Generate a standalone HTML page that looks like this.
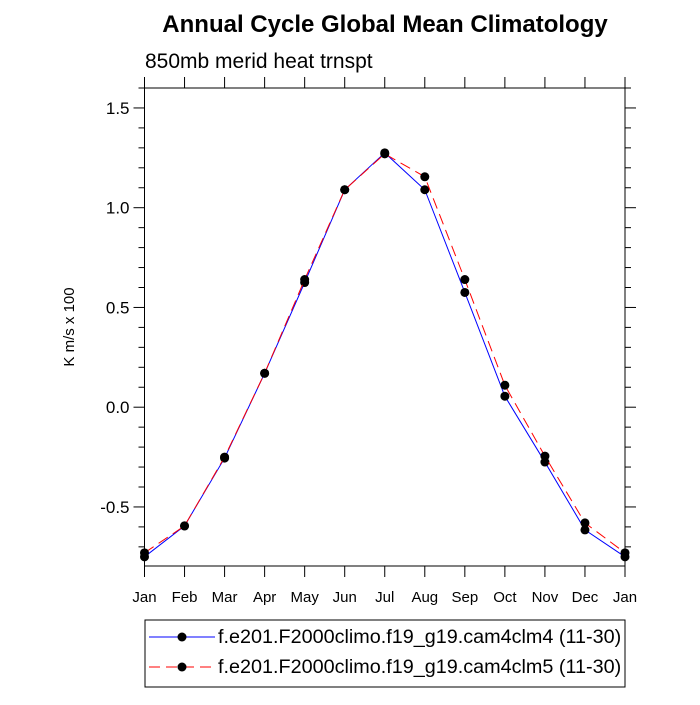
<!DOCTYPE html>
<html><head><meta charset="utf-8"><style>
body{margin:0;background:#fff}
svg text{font-family:"Liberation Sans",sans-serif}
</style></head><body>
<svg width="700" height="700" xmlns="http://www.w3.org/2000/svg">
<text x="385" y="32" text-anchor="middle" font-size="24" font-weight="bold">Annual Cycle Global Mean Climatology</text>
<text x="145" y="68" font-size="21">850mb merid heat trnspt</text>
<text transform="translate(74,327) rotate(-90)" text-anchor="middle" font-size="15">K m/s x 100</text>
<g id="axes"></g>
<g id="series"></g>
<g>
<rect x="145" y="620" width="480" height="67" fill="none" stroke="#000" stroke-width="1"/>
<g>
<line x1="149" y1="637" x2="215" y2="637" stroke="#0000ff" stroke-width="1"/>
<circle cx="182" cy="637" r="4.5" fill="#000"/>
<text x="218" y="643" font-size="19.8">f.e201.F2000climo.f19_g19.cam4clm4 (11-30)</text>
</g>
<g>
<line x1="149" y1="667" x2="215" y2="667" stroke="#ff0000" stroke-width="1" stroke-dasharray="11,6"/>
<circle cx="182" cy="667" r="4.5" fill="#000"/>
<text x="218" y="673" font-size="19.8">f.e201.F2000climo.f19_g19.cam4clm5 (11-30)</text>
</g>
</g>
</svg>
<script>
const months=["Jan","Feb","Mar","Apr","May","Jun","Jul","Aug","Sep","Oct","Nov","Dec","Jan"];
const cam4=[-0.75,-0.595,-0.255,0.17,0.625,1.09,1.275,1.09,0.575,0.055,-0.275,-0.615,-0.75];
const cam5=[-0.73,-0.595,-0.25,0.17,0.64,1.09,1.27,1.155,0.64,0.11,-0.245,-0.58,-0.73];
const yTicks=[-0.5,0,0.5,1,1.5];
const yTickLabels=["-0.5","0.0","0.5","1.0","1.5"];
const L=144.5,R=625,T=88,B=566;
const yMin=-0.796,yMax=1.6;
const xs=i=>L+i*(R-L)/(months.length-1);
const ys=v=>B-(v-yMin)/(yMax-yMin)*(B-T);
const NS="http://www.w3.org/2000/svg";
function mk(tag,attrs,parent){const e=document.createElementNS(NS,tag);for(const k in attrs)e.setAttribute(k,attrs[k]);parent.appendChild(e);return e;}
const ax=document.getElementById('axes');
const frame=mk('rect',{x:L,y:T,width:R-L,height:B-T,fill:'none',stroke:'#000','stroke-width':1},ax);


months.forEach((m,i)=>{const x=xs(i);
 mk('line',{x1:x,y1:B,x2:x,y2:B+11,stroke:'#000'},ax);
 mk('line',{x1:x,y1:T,x2:x,y2:T-11,stroke:'#000'},ax);
 const t=mk('text',{x:x,y:B+36,'text-anchor':'middle','font-size':15},ax);t.textContent=m;
 
 
});
for(let k=-7;k<=16;k++){const v=k/10;const y=ys(v);if(y>B+0.5||y<T-0.5)continue;
 const major=Math.abs(v*2-Math.round(v*2))<1e-6;const len=major?11:6;
 mk('line',{x1:L,y1:y,x2:L-len,y2:y,stroke:'#000'},ax);
 mk('line',{x1:R,y1:y,x2:R+len,y2:y,stroke:'#000'},ax);}
yTicks.forEach((v,i)=>{const t=mk('text',{x:L-15,y:ys(v)+6,'text-anchor':'end','font-size':17},ax);t.textContent=yTickLabels[i];
 
 });
const sg=document.getElementById('series');
function drawSeries(data,color,dash,name){
 const p=mk('polyline',{points:data.map((v,i)=>xs(i)+','+ys(v)).join(' '),fill:'none',stroke:color,'stroke-width':1,'stroke-dasharray':dash},sg);
 
 
 data.forEach((v,i)=>{const c=mk('circle',{cx:xs(i),cy:ys(v),r:4.5,fill:'#000'},sg);
  
  });
}
drawSeries(cam4,'#0000ff','none','cam4clm4');
drawSeries(cam5,'#ff0000','11,6','cam4clm5');
</script>
</body></html>
